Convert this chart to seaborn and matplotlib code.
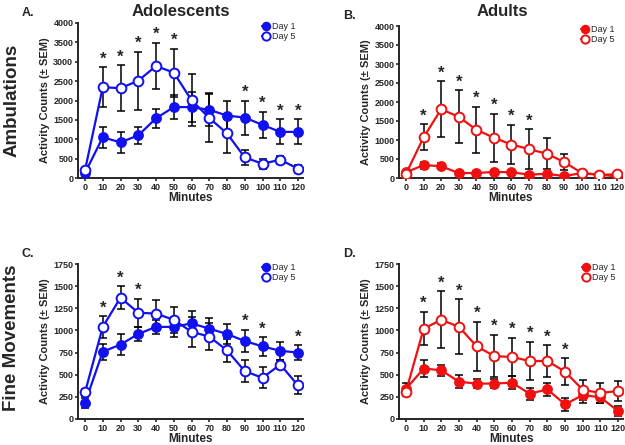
import numpy as np
import pandas as pd
import matplotlib
matplotlib.use("Agg")
import matplotlib.pyplot as plt
import seaborn as sns

minutes = list(range(0, 130, 10))

# A. adolescents, ambulations
adol_amb_d1 = [130, 1050, 920, 1100, 1540, 1830, 1830, 1760, 1610, 1560, 1370, 1190, 1190]
adol_amb_d1_sem = [40, 270, 270, 215, 250, 300, 390, 430, 390, 440, 340, 320, 320]
adol_amb_d5 = [200, 2340, 2320, 2510, 2890, 2720, 2010, 1550, 1150, 530, 370, 470, 240]
adol_amb_d5_sem = [40, 520, 590, 750, 600, 620, 680, 620, 510, 190, 130, 110, 100]
adol_amb_stars = [10, 20, 30, 40, 50, 90, 100, 110, 120]

# B. adults, ambulations
adult_amb_d1 = [150, 340, 310, 130, 130, 160, 150, 90, 110, 50, 130, 90, 40]
adult_amb_d1_sem = [30, 90, 80, 30, 30, 30, 30, 30, 30, 20, 30, 20, 20]
adult_amb_d5 = [110, 1070, 1810, 1610, 1270, 1060, 880, 760, 640, 420, 130, 80, 100]
adult_amb_d5_sem = [30, 340, 740, 700, 610, 630, 520, 520, 400, 220, 20, 20, 20]
adult_amb_stars = [10, 20, 30, 40, 50, 60, 70]

# C. adolescents, fine movements
adol_fine_d1 = [180, 760, 840, 960, 1040, 1040, 1080, 1020, 960, 880, 820, 770, 750]
adol_fine_d1_sem = [60, 90, 115, 80, 80, 110, 135, 115, 110, 125, 105, 100, 85]
adol_fine_d5 = [300, 1040, 1370, 1200, 1190, 1120, 985, 930, 775, 540, 465, 615, 380]
adol_fine_d5_sem = [40, 120, 130, 160, 150, 150, 170, 150, 130, 125, 120, 50, 100]
adol_fine_stars = [10, 20, 30, 90, 100, 120]

# D. adults, fine movements
adult_fine_d1 = [340, 570, 550, 420, 400, 400, 410, 285, 335, 165, 270, 245, 90]
adult_fine_d1_sem = [70, 95, 60, 75, 50, 55, 70, 65, 70, 75, 90, 60, 60]
adult_fine_d5 = [310, 1020, 1120, 1040, 820, 710, 700, 655, 655, 535, 330, 295, 315]
adult_fine_d5_sem = [50, 190, 320, 310, 275, 240, 215, 220, 180, 150, 110, 110, 110]
adult_fine_stars = [10, 20, 30, 40, 50, 60, 70, 80, 90]

sns.set_style("ticks")
plt.rcParams['font.family'] = ['Liberation Sans', 'DejaVu Sans']

fig = plt.figure(figsize=(6.25, 4.45), dpi=100)
W, H = 625, 445


def px_axes(x0, ppm, y_top, y_bot):
    # x0: pixel of minute 0, ppm: pixels per minute
    left = x0 - 4 * ppm
    width = 127 * ppm
    return fig.add_axes([left / W, (H - y_bot) / H, width / W, (y_bot - y_top) / H])


def panel(ax, d1, s1, d5, s5, stars, color, ymax, ystep, letter):
    df = pd.DataFrame({"minute": minutes, "d1": d1, "s1": s1, "d5": d5, "s5": s5})
    ax.errorbar(df["minute"], df["d1"], yerr=df["s1"], fmt="none", ecolor="black",
                elinewidth=1.1, capsize=3, capthick=1.1, zorder=1)
    ax.errorbar(df["minute"], df["d5"], yerr=df["s5"], fmt="none", ecolor="black",
                elinewidth=1.1, capsize=3, capthick=1.1, zorder=1)
    sns.lineplot(data=df, x="minute", y="d1", ax=ax, color=color, marker="o",
                 markersize=6.5, markeredgecolor=color, markeredgewidth=1.3,
                 linewidth=1.6, label="Day 1", zorder=3)
    sns.lineplot(data=df, x="minute", y="d5", ax=ax, color=color, marker="o",
                 markersize=7, markerfacecolor="white", markeredgecolor=color,
                 markeredgewidth=1.4, linewidth=1.6, label="Day 5", zorder=4)
    for m in stars:
        i = minutes.index(m)
        top = max(d1[i] + s1[i], d5[i] + s5[i])
        ax.text(m, top + ymax * 0.005, "*", ha="center", va="bottom",
                fontsize=12, fontweight="bold")
    ax.set_xlim(-4, 123)
    ax.set_ylim(0, ymax)
    ax.set_xticks(minutes)
    ax.set_yticks(np.arange(0, ymax + 1, ystep))
    ax.tick_params(labelsize=6.5, width=1.2, length=2.5, pad=0.8)
    for lab in ax.get_xticklabels() + ax.get_yticklabels():
        lab.set_fontweight("bold")
    sns.despine(ax=ax)
    for sp in ["left", "bottom"]:
        ax.spines[sp].set_linewidth(1.4)
    ax.set_xlabel("Minutes", fontsize=8.5, fontweight="bold", labelpad=0)
    ax.set_ylabel("Activity Counts (\u00b1 SEM)", fontsize=8, fontweight="bold", labelpad=2)
    ax.legend(loc="upper right", bbox_to_anchor=(0.99, 1.04), frameon=False,
              fontsize=6.5, handlelength=0.8, handletextpad=0.3, labelspacing=0.1,
              borderaxespad=0.2, markerscale=0.85)
    ax.text(-0.25, 1.065, letter, transform=ax.transAxes, fontsize=9,
            fontweight="bold", ha="left", va="center")


axA = px_axes(85, 1.775, 23, 178)
panel(axA, adol_amb_d1, adol_amb_d1_sem, adol_amb_d5, adol_amb_d5_sem,
      adol_amb_stars, "#1010f0", 4000, 500, "A.")
axB = px_axes(406, 1.758, 26, 178)
panel(axB, adult_amb_d1, adult_amb_d1_sem, adult_amb_d5, adult_amb_d5_sem,
      adult_amb_stars, "#f01010", 4000, 500, "B.")
axC = px_axes(85, 1.775, 264, 419)
panel(axC, adol_fine_d1, adol_fine_d1_sem, adol_fine_d5, adol_fine_d5_sem,
      adol_fine_stars, "#1010f0", 1750, 250, "C.")
axD = px_axes(406, 1.767, 264, 419)
panel(axD, adult_fine_d1, adult_fine_d1_sem, adult_fine_d5, adult_fine_d5_sem,
      adult_fine_stars, "#f01010", 1750, 250, "D.")

fig.text(181 / W, 1 - 12 / H, "Adolescents", ha="center", va="center",
         fontsize=12, fontweight="bold")
fig.text(502 / W, 1 - 12 / H, "Adults", ha="center", va="center",
         fontsize=12, fontweight="bold")
fig.text(12 / W, 1 - 100 / H, "Ambulations", ha="center", va="center",
         rotation=90, fontsize=13.5, fontweight="bold")
fig.text(12 / W, 1 - 338 / H, "Fine Movements", ha="center", va="center",
         rotation=90, fontsize=13.5, fontweight="bold")

fig.savefig("out.png", dpi=100)
